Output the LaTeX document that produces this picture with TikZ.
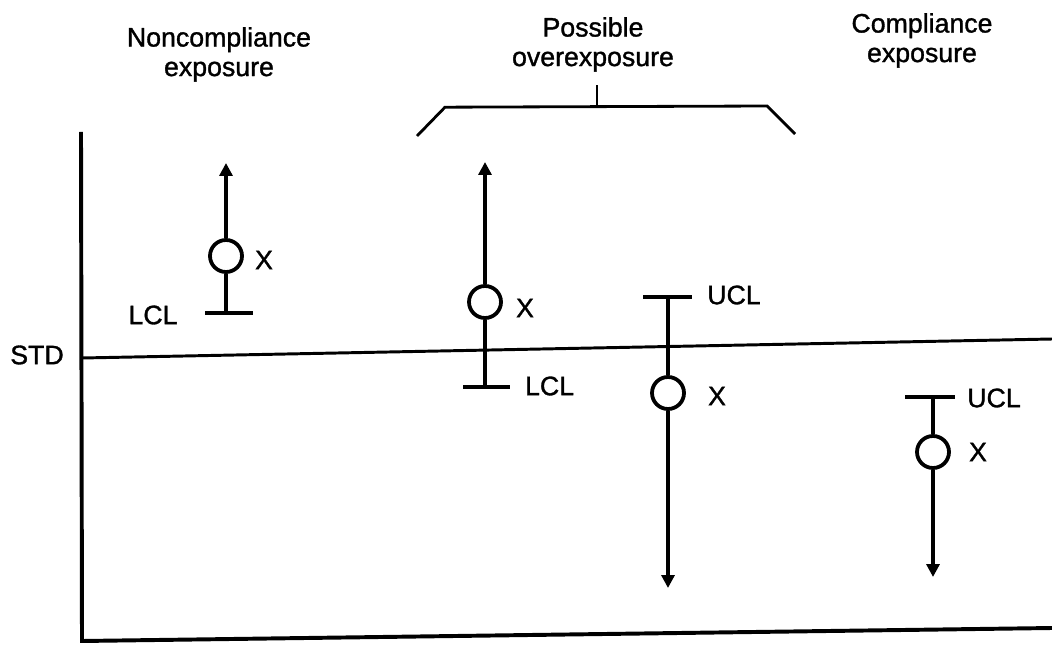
\documentclass[tikz,border=0pt]{standalone}
\usepackage{fontspec}
\setmainfont{Liberation Sans}[BoldFont={Liberation Sans}, BoldFeatures={FakeBold=1.2}]
\usetikzlibrary{arrows.meta}

\begin{document}
\begin{tikzpicture}[
          lbl/.style={font=\fontsize{19}{21}\selectfont\bfseries, inner sep=0pt},
          title/.style={lbl, align=center},
          mean/.style={circle, draw, line width=2.7pt, minimum size=0.8cm, inner sep=0pt},
          bar/.style={line width=2.8pt},
          stem/.style={line width=2.5pt},
          arrow/.style={stem, -{Triangle[width=0.32cm,length=0.32cm]}},
          axis/.style={line width=2.8pt},
          stdline/.style={line width=2.1pt},
          brace/.style={line width=2pt}
        ]
          \useasboundingbox (0,0) rectangle (26.3,16.1);

          % headings
          \node[title] (nc) at (5.475,14.74) {Noncompliance\\exposure};
          \node[title] (po) at (14.825,14.99) {Possible\\overexposure};
          \node[title] (co) at (23.05,15.09) {Compliance\\exposure};

          % bracket under possible overexposure
          \coordinate (bl) at (10.425,12.7);
          \coordinate (br) at (19.875,12.75);
          \coordinate (bt) at (14.925,13.975);
          \draw[brace] (bl) -- (11.125,13.42) -- (19.175,13.45) -- (br);
          \draw[brace] (14.925,13.43) -- (bt);

          % axes
          \coordinate (ytop) at (2.025,12.8);
          \coordinate (orig) at (2.05,0.075);
          \coordinate (xend) at (26.3,0.4);
          \draw[axis] (ytop) -- (orig) -- (xend);

          % standard
          \coordinate (s0) at (2.05,7.15);
          \coordinate (s1) at (26.3,7.625);
          \draw[stdline] (s0) -- (s1);
          \node[lbl] (std) at (0.925,7.225) {STD};

          % means
          \node[mean] (m1) at (5.65,9.7) {};
          \node[mean] (m2) at (12.125,8.55) {};
          \node[mean] (m3) at (16.7,6.275) {};
          \node[mean] (m4) at (23.325,4.8) {};
          \node[lbl] (x1) at (6.6,9.6) {X};
          \node[lbl] (x2) at (13.125,8.4) {X};
          \node[lbl] (x3) at (17.925,6.2) {X};
          \node[lbl] (x4) at (24.45,4.8) {X};

          % confidence limits
          \coordinate (c1) at (5.65,8.275);
          \coordinate (c2) at (12.125,6.425);
          \coordinate (c3) at (16.7,8.675);
          \coordinate (c4) at (23.325,6.175);
          \draw[bar] (5.125,8.275) -- (6.325,8.275);
          \draw[bar] (11.575,6.425) -- (12.75,6.425);
          \draw[bar] (16.075,8.675) -- (17.3,8.675);
          \draw[bar] (22.625,6.175) -- (23.875,6.175);
          \node[lbl] (l1) at (3.825,8.225) {LCL};
          \node[lbl] (l2) at (13.74,6.45) {LCL};
          \node[lbl] (u3) at (18.35,8.725) {UCL};
          \node[lbl] (u4) at (24.85,6.15) {UCL};

          % open ends
          \coordinate (t1) at (5.65,12.025);
          \coordinate (t2) at (12.125,12.05);
          \coordinate (t3) at (16.7,1.4);
          \coordinate (t4) at (23.325,1.675);

          % limit stems
          \draw[stem] (m1) -- (c1);
          \draw[stem] (m2) -- (c2);
          \draw[stem] (m3) -- (c3);
          \draw[stem] (m4) -- (c4);

          % unbounded sides
          \draw[arrow] (m1) -- (t1);
          \draw[arrow] (m2) -- (t2);
          \draw[arrow] (m3) -- (t3);
          \draw[arrow] (m4) -- (t4);
\end{tikzpicture}
\end{document}
